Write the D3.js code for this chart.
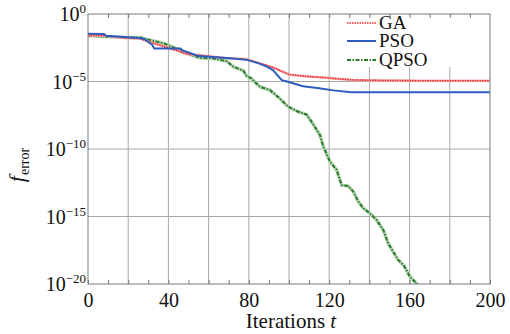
<!DOCTYPE html>
<html>
<head>
<meta charset="utf-8">
<script src="https://cdn.jsdelivr.net/npm/d3@7"></script>
<style>
  body { margin: 0; background: #fff; }
  svg { display: block; font-family: "Liberation Serif", serif; }
</style>
</head>
<body>
<svg id="chart" width="510" height="334"></svg>
<script>
// iterations and f_error (log decades)
var gaIter  = [0, 8, 18, 26, 30, 38, 45, 49, 58, 68, 79, 88, 92, 98.8, 100.5, 110, 118.7, 122, 132, 145, 163, 200];
var gaErr   = [2.6e-2, 2.5e-2, 1.7e-2, 1.5e-2, 9e-3, 3.8e-3, 1.8e-3, 1.1e-3, 8e-4, 5.5e-4, 4.4e-4, 1.7e-4, 1.1e-4, 4e-5, 3.2e-5, 2.3e-5, 1.9e-5, 1.7e-5, 1.3e-5, 1.2e-5, 1.15e-5, 1.15e-5];

var psoIter = [0, 8, 9, 25, 28, 32, 33, 46, 47, 50, 55, 62, 70.6, 79, 85, 89, 92, 96.4, 99, 107, 115, 122, 131, 200];
var psoErr  = [3.5e-2, 3.3e-2, 2.4e-2, 1.7e-2, 1.4e-2, 5e-3, 2.8e-3, 2.8e-3, 2e-3, 1.4e-3, 7.6e-4, 6.6e-4, 5.2e-4, 4e-4, 2.2e-4, 1.26e-4, 7e-5, 1.26e-5, 1e-5, 4.5e-6, 3.2e-6, 2.2e-6, 1.6e-6, 1.6e-6];

var qpsoIter = [0, 10, 20, 26, 30, 37.5, 45.8, 50.7, 56, 62, 69, 72.3, 77.3, 79, 81, 85.6, 90.5, 95, 99.5, 104, 108.8, 111.3, 115.4, 117.1, 120.4, 123.7, 126.2, 129.5, 132, 134.5, 137, 140.3, 143.6, 146.9, 149.4, 154.2, 157, 160.2, 163.7, 166];
var qpsoErr  = [2.4e-2, 2.1e-2, 1.8e-2, 1.8e-2, 1.26e-2, 6.8e-3, 2.1e-3, 1e-3, 5.6e-4, 5.2e-4, 3.2e-4, 1.26e-4, 6.3e-5, 2.5e-5, 1.8e-5, 4e-6, 2.3e-6, 6.3e-7, 1.4e-7, 6.3e-8, 3.5e-8, 1e-8, 1.1e-9, 1.5e-10, 1.15e-11, 2.8e-12, 2.1e-13, 1.8e-13, 6.9e-14, 1.26e-14, 4e-15, 1.7e-15, 5.5e-16, 1e-16, 1e-17, 6.3e-19, 2.5e-19, 3.5e-20, 1e-20, 4e-21];

var xTicks = [0, 40, 80, 120, 160, 200];
var yTicks = [1, 1e-5, 1e-10, 1e-15, 1e-20];
var yExps  = ["0", "\u22125", "\u221210", "\u221215", "\u221220"];
var legendNames = ["GA", "PSO", "QPSO"];

var pLeft = 88, pRight = 490, pTop = 14, pBottom = 284;

var svg = d3.select("#chart");

var x = d3.scaleLinear().domain([0, 200]).range([pLeft, pRight]);
var y = d3.scaleLog().domain([1e-20, 1]).range([pBottom, pTop]);

// grid
svg.append("g").selectAll("line")
    .data(d3.range(20, 200, 20))
    .join("line")
    .attr("x1", d => x(d)).attr("x2", d => x(d))
    .attr("y1", pTop).attr("y2", pBottom)
    .attr("stroke", "#a8a8a8").attr("stroke-width", 1);

svg.append("g").selectAll("line")
    .data([1e-5, 1e-10, 1e-15])
    .join("line")
    .attr("x1", pLeft).attr("x2", pRight)
    .attr("y1", d => y(d)).attr("y2", d => y(d))
    .attr("stroke", "#a8a8a8").attr("stroke-width", 1);

// clip for the curves
svg.append("clipPath").attr("id", "plotclip")
    .append("rect").attr("x", pLeft).attr("y", pTop)
    .attr("width", pRight - pLeft).attr("height", pBottom - pTop);

function series(iters, errs) {
    return iters.map((t, i) => [t, errs[i]]);
}

var line = d3.line().x(d => x(d[0])).y(d => y(d[1]));

var plot = svg.append("g").attr("clip-path", "url(#plotclip)");

// QPSO: dash-dot green with pale halo
plot.append("path")
    .datum(series(qpsoIter, qpsoErr))
    .attr("d", line)
    .attr("fill", "none")
    .attr("stroke", "#b9d8b5").attr("stroke-width", 3.5);
plot.append("path")
    .datum(series(qpsoIter, qpsoErr))
    .attr("d", line)
    .attr("fill", "none")
    .attr("stroke", "#2b7a2e").attr("stroke-width", 2)
    .attr("stroke-dasharray", "4,1.5,1.5,1.5");

// GA: red dotted
plot.append("path")
    .datum(series(gaIter, gaErr))
    .attr("d", line)
    .attr("fill", "none")
    .attr("stroke", "#f2b0b0").attr("stroke-width", 2.5);
plot.append("path")
    .datum(series(gaIter, gaErr))
    .attr("d", line)
    .attr("fill", "none")
    .attr("stroke", "#ee2a2a").attr("stroke-width", 1.6)
    .attr("stroke-dasharray", "1.5,1");

// PSO: blue solid
plot.append("path")
    .datum(series(psoIter, psoErr))
    .attr("d", line)
    .attr("fill", "none")
    .attr("stroke", "#2d5cbf").attr("stroke-width", 2);

// legend
svg.append("rect")
    .attr("x", 343).attr("y", pTop + 1)
    .attr("width", pRight - 344).attr("height", 52)
    .attr("fill", "#fff");

var legY = [23, 41, 60];
var leg = svg.append("g");
leg.append("line").attr("x1", 347).attr("x2", 376).attr("y1", legY[0]).attr("y2", legY[0])
    .attr("stroke", "#ee2a2a").attr("stroke-width", 1.6).attr("stroke-dasharray", "1.5,1");
leg.append("line").attr("x1", 347).attr("x2", 376).attr("y1", legY[1]).attr("y2", legY[1])
    .attr("stroke", "#2d5cbf").attr("stroke-width", 2);
leg.append("line").attr("x1", 347).attr("x2", 376).attr("y1", legY[2]).attr("y2", legY[2])
    .attr("stroke", "#2b7a2e").attr("stroke-width", 2).attr("stroke-dasharray", "4,1.5,1.5,1.5");
leg.selectAll("text")
    .data(legendNames)
    .join("text")
    .attr("x", 379)
    .attr("y", (d, i) => legY[i] + 6)
    .attr("font-size", 19)
    .attr("fill", "#111")
    .text(d => d);

// frame and minor ticks
svg.append("rect")
    .attr("x", pLeft).attr("y", pTop)
    .attr("width", pRight - pLeft).attr("height", pBottom - pTop)
    .attr("fill", "none").attr("stroke", "#7a7a7a").attr("stroke-width", 1);

var bottomAxis = d3.axisBottom(x)
    .tickValues(d3.range(0, 201, 10))
    .tickSize(-4)
    .tickPadding(9)
    .tickFormat(d => xTicks.includes(d) ? d : "");
var gx = svg.append("g").attr("transform", "translate(0," + pBottom + ")").call(bottomAxis);
gx.select(".domain").remove();
gx.selectAll(".tick line").attr("stroke", "#7a7a7a");
gx.selectAll(".tick text").attr("font-size", 20).attr("font-family", "Liberation Serif, serif").attr("fill", "#111");

var topAxis = d3.axisTop(x)
    .tickValues(d3.range(10, 200, 10))
    .tickSize(-4)
    .tickFormat("");
var gt = svg.append("g").attr("transform", "translate(0," + pTop + ")").call(topAxis);
gt.select(".domain").remove();
gt.selectAll(".tick line").attr("stroke", "#7a7a7a");

// y tick labels: 10 with superscript exponent
var yl = svg.append("g").selectAll("text")
    .data(yTicks)
    .join("text")
    .attr("x", 86)
    .attr("y", d => y(d) + 7)
    .attr("text-anchor", "end")
    .attr("font-size", 20)
    .attr("fill", "#111");
yl.append("tspan").text("10");
yl.append("tspan")
    .attr("dy", -8)
    .attr("font-size", 13)
    .text((d, i) => yExps[i]);

// axis titles
var xt = svg.append("text")
    .attr("x", 291).attr("y", 328)
    .attr("text-anchor", "middle")
    .attr("font-size", 21)
    .attr("fill", "#111");
xt.append("tspan").text("Iterations ");
xt.append("tspan").attr("font-style", "italic").text("t");

var yt = svg.append("text")
    .attr("transform", "translate(24,165) rotate(-90)")
    .attr("text-anchor", "middle")
    .attr("fill", "#111");
yt.append("tspan").attr("font-size", 22).attr("font-style", "italic").text("f");
yt.append("tspan").attr("font-size", 14).attr("dy", 5).attr("dx", 1).text("error");
</script>
</body>
</html>
